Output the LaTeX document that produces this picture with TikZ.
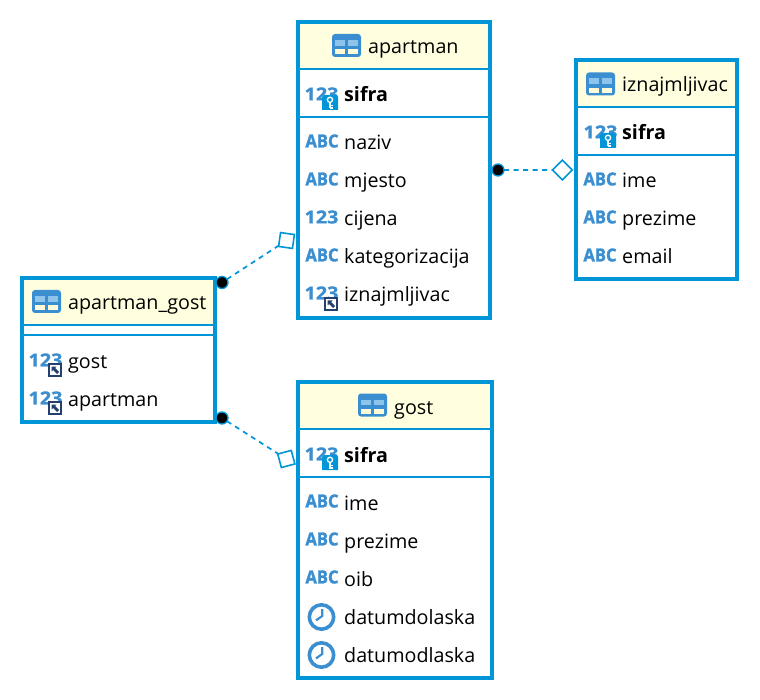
\documentclass[tikz,border=0pt]{standalone}
\usepackage{fontspec}
\setmainfont{Open Sans}
\definecolor{erblue}{HTML}{0095D6}
\definecolor{icblue}{HTML}{3B8FD0}
\definecolor{iclight}{HTML}{8CC4EC}
\definecolor{icyellow}{HTML}{FFFBD8}
\definecolor{hdr}{HTML}{FFFFE0}
\definecolor{fknavy}{HTML}{24406E}
\tikzset{
  x=1pt,y=-1pt,
  erbox/.style={draw=erblue,line width=4pt,rectangle,inner sep=0pt,outer sep=0pt},
  rowtext/.style={anchor=base west,inner sep=0pt,font=\fontsize{19.7}{21}\selectfont,text=black},
  keytext/.style={rowtext,font=\fontsize{19.7}{21}\selectfont\bfseries},
  numtext/.style={anchor=center,inner sep=0pt,text=icblue,font=\fontsize{18}{18}\selectfont\bfseries\addfontfeature{FakeBold=0.8},xscale=1.1},
  abctext/.style={anchor=center,inner sep=0pt,text=icblue,font=\fontsize{18}{18}\selectfont\bfseries\addfontfeature{FakeBold=1.5},xscale=0.92},
  rule/.style={draw=erblue,line width=2pt},
  enddot/.style={circle,fill=black,draw=erblue,line width=1.3pt,minimum size=12pt,inner sep=0pt,outer sep=0pt},
  endsq/.style={rectangle,draw=erblue,fill=white,line width=1.6pt,minimum size=14pt,inner sep=0pt,outer sep=0pt},
  link/.style={draw=erblue,line width=1.7pt,dash pattern=on 5pt off 4.5pt},
}
% name, x1,y1,x2,y2 (outer edges), header rule y, 2nd rule y
\newcommand\erbox[7]{%
  \fill[hdr] (#2,#3) rectangle (#4,#6);
  \draw[rule] (#2,#6) -- (#4,#6);
  \draw[rule] (#2,#7) -- (#4,#7);
  \pgfmathsetmacro\erw{#4-#2-4}\pgfmathsetmacro\erh{#5-#3-4}
  \node[erbox,minimum width=\erw pt,minimum height=\erh pt] (#1) at ({(#2+#4)/2},{(#3+#5)/2}) {};
}
\newcommand\tblicon[2]{%
  \begin{scope}[shift={(#1,#2)}]
    \fill[icblue,rounded corners=3pt] (-14.5,-11.5) rectangle (14.5,11.5);
    \fill[iclight] (-12,-5.5) rectangle (-1.5,0.2);
    \fill[iclight] (1.2,-5.5) rectangle (11.8,0.2);
    \fill[icyellow] (-12,3.8) rectangle (-1.5,8.8);
    \fill[icyellow] (1.2,3.8) rectangle (11.8,8.8);
  \end{scope}}
\newcommand\keybadge[2]{%
  \begin{scope}[shift={(#1,#2)}]
    \fill[erblue] (0,2) -- (2,0) -- (14,0) -- (16,2) -- (16,15) -- (0,15) -- cycle;
    \draw[white,line width=1.3pt] (8,4.8) circle (2.6pt);
    \draw[white,line width=1.5pt] (8,7.5) -- (8,13.5) (8,10.5) -- (11,10.5) (8,13) -- (11,13);
  \end{scope}}
\newcommand\fkbadge[2]{%
  \begin{scope}[shift={(#1,#2)}]
    \fill[fknavy] (0,0) rectangle (14,14);
    \fill[white] (2,2) rectangle (12,12);
    \fill[fknavy] (3.5,3.5) -- (8.5,3.5) -- (7,5) -- (11,9) -- (9,11) -- (5,7) -- (3.5,8.5) -- cycle;
  \end{scope}}
\newcommand\clockicon[2]{%
  \begin{scope}[shift={(#1,#2)}]
    \draw[icblue,line width=3.6pt] (0,0) circle (12.2pt);
    \draw[icblue,line width=2.2pt] (0.7,-8) -- (0.7,-1) -- (-5.5,3.4);
  \end{scope}}
\newcommand\numtag[3]{\node[numtext] (#1) at (#2,#3) {123};}
\newcommand\abctag[3]{\node[abctext] (#1) at (#2,#3) {ABC};}
\begin{document}
\begin{tikzpicture}
\useasboundingbox (0,0) rectangle (760,700);
\fill[white] (0,0) rectangle (760,700);

% tables
\erbox{apartman}{296}{20}{492}{320}{69}{117}
\erbox{iznajmljivac}{574}{58}{739}{281}{107}{155}
\erbox{apgost}{20}{276}{217}{424}{325}{335}
\erbox{gost}{296}{380}{494}{680}{429}{477}

% apartman
\tblicon{346.5}{45.5}
\node[rowtext] (t1) at (368,54) {apartman};
\numtag{n1a}{321.5}{94}\keybadge{322}{95}
\node[keytext] (t1a) at (344,102) {sifra};
\abctag{n1b}{322}{141}
\node[rowtext] (t1b) at (344,150) {naziv};
\abctag{n1c}{322}{179}
\node[rowtext] (t1c) at (344,188) {mjesto};
\numtag{n1d}{321.5}{217}
\node[rowtext] (t1d) at (344,226) {cijena};
\abctag{n1e}{322}{255}
\node[rowtext] (t1e) at (344,264) {kategorizacija};
\numtag{n1f}{321.5}{293}\fkbadge{324}{297}
\node[rowtext] (t1f) at (344,302) {iznajmljivac};

% iznajmljivac
\tblicon{600.5}{84}
\node[rowtext] (t2) at (622,92) {iznajmljivac};
\numtag{n2a}{600.5}{132}\keybadge{600}{133}
\node[keytext] (t2a) at (622,140) {sifra};
\abctag{n2b}{600}{179}
\node[rowtext] (t2b) at (622,188) {ime};
\abctag{n2c}{600}{217}
\node[rowtext] (t2c) at (622,226) {prezime};
\abctag{n2d}{600}{255}
\node[rowtext] (t2d) at (622,264) {email};

% apartman_gost
\tblicon{46.5}{301.5}
\node[rowtext] (t3) at (68,310) {apartman\_gost};
\numtag{n3a}{45.5}{360}\fkbadge{48}{363}
\node[rowtext] (t3a) at (68,368) {gost};
\numtag{n3b}{45.5}{398}\fkbadge{48}{401}
\node[rowtext] (t3b) at (68,406) {apartman};

% gost
\tblicon{372.5}{405}
\node[rowtext] (t4) at (394,414) {gost};
\numtag{n4a}{321.5}{454}\keybadge{322}{455}
\node[keytext] (t4a) at (344,462) {sifra};
\abctag{n4b}{322}{501}
\node[rowtext] (t4b) at (344,510) {ime};
\abctag{n4c}{322}{539}
\node[rowtext] (t4c) at (344,548) {prezime};
\abctag{n4d}{322}{577}
\node[rowtext] (t4d) at (344,586) {oib};
\clockicon{321.5}{617}
\node[rowtext] (t4e) at (344,624) {datumdolaska};
\clockicon{321.5}{655}
\node[rowtext] (t4f) at (344,662) {datumodlaska};

% relationship ends
\node[enddot] (d1) at (498,170) {};
\node[endsq,rotate=45] (s1) at (562.3,170) {};
\node[enddot] (d2) at (222,282.5) {};
\node[endsq,rotate=-8] (s2) at (286.5,240.5) {};
\node[enddot] (d3) at (222,418) {};
\node[endsq,rotate=15] (s3) at (286.3,459) {};

\draw[link] (d1) -- (s1);
\draw[link] (d2) -- (s2);
\draw[link] (d3) -- (s3);
\end{tikzpicture}
\end{document}
